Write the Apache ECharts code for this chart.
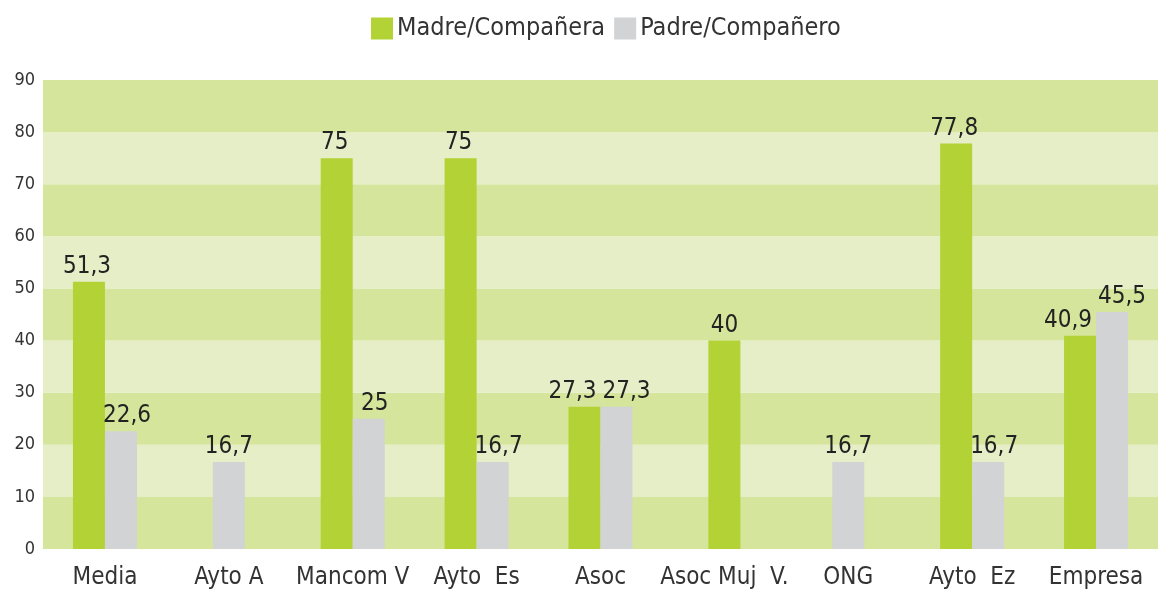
<!DOCTYPE html>
<html>
<head>
<meta charset="utf-8">
<script src="https://cdn.jsdelivr.net/npm/echarts@6/dist/echarts.min.js"></script>
<style>
  html, body { margin: 0; padding: 0; background: #fff; }
  #chart { width: 1158px; height: 593px; }
</style>
</head>
<body>
<div id="chart"></div>
<script>
const categories = ['Media', 'Ayto A', 'Mancom V', 'Ayto  Es', 'Asoc', 'Asoc Muj  V.', 'ONG', 'Ayto  Ez', 'Empresa']
const madre = [51.3, null, 75, 75, 27.3, 40, null, 77.8, 40.9]
const padre = [22.6, 16.7, 25, 16.7, 27.3, null, 16.7, 16.7, 45.5]
const yTicks = [0, 10, 20, 30, 40, 50, 60, 70, 80, 90]

const FONT = "'DejaVu Sans Condensed', 'DejaVu Sans', sans-serif"
const GREEN = '#b3d235'
const GREY = '#d1d3d4'

// bars that have a partner sit side by side, the lone ones get centred on a second axis
const both = (i) => madre[i] != null && padre[i] != null
// when the two labels would sit at the same height push them apart
const close = (i) => both(i) && Math.abs(madre[i] - padre[i]) < 6
const madrePair = madre.map((v, i) => !both(i) ? null : { value: v, label: { offset: [close(i) ? -12 : -2, 0] } })
const padrePair = padre.map((v, i) => !both(i) ? null : { value: v, label: { offset: [close(i) ? 10 : 6, 0] } })
const madreSolo = madre.map((v, i) => both(i) ? null : v)
const padreSolo = padre.map((v, i) => both(i) ? null : v)

const label = {
  show: true,
  position: 'top',
  distance: 3,
  color: '#222',
  fontFamily: FONT,
  fontSize: 24,
  formatter: (p) => String(p.value).replace('.', ',')
}

const chart = echarts.init(document.getElementById('chart'))
chart.setOption({
  animation: false,
  legend: {
    top: 11,
    left: 366,
    itemWidth: 22,
    itemHeight: 22,
    itemGap: 9,
    icon: 'rect',
    textStyle: { color: '#333', fontFamily: FONT, fontSize: 25, padding: [0, 0, 0, -1] },
    data: ['Madre/Compañera', 'Padre/Compañero']
  },
  grid: { left: 43, right: 0, top: 80, bottom: 44 },
  xAxis: [{
    type: 'category',
    data: categories,
    axisLine: { show: false },
    axisTick: { show: false },
    axisLabel: { color: '#333', fontFamily: FONT, fontSize: 24, margin: 17, interval: 0 }
  }, {
    type: 'category',
    data: categories,
    show: false
  }],
  yAxis: {
    type: 'value',
    min: yTicks[0],
    max: yTicks[yTicks.length - 1],
    interval: 10,
    axisLine: { show: false },
    axisTick: { show: false },
    splitLine: { show: false },
    splitArea: { show: true, areaStyle: { color: ['#d5e59c', '#e5eec6'] } },
    axisLabel: { color: '#333', fontFamily: FONT, fontSize: 18, margin: 8 }
  },
  series: [{
    name: 'Madre/Compañera',
    type: 'bar',
    data: madrePair,
    barWidth: 32,
    barGap: '0%',
    itemStyle: { color: GREEN },
    label: label
  }, {
    name: 'Padre/Compañero',
    type: 'bar',
    data: padrePair,
    barWidth: 32,
    barGap: '0%',
    itemStyle: { color: GREY },
    label: label
  }, {
    name: 'Madre/Compañera',
    type: 'bar',
    xAxisIndex: 1,
    stack: 'solo',
    data: madreSolo,
    barWidth: 32,
    itemStyle: { color: GREEN },
    label: label
  }, {
    name: 'Padre/Compañero',
    type: 'bar',
    xAxisIndex: 1,
    stack: 'solo',
    data: padreSolo,
    barWidth: 32,
    itemStyle: { color: GREY },
    label: label
  }]
})
</script>
</body>
</html>
